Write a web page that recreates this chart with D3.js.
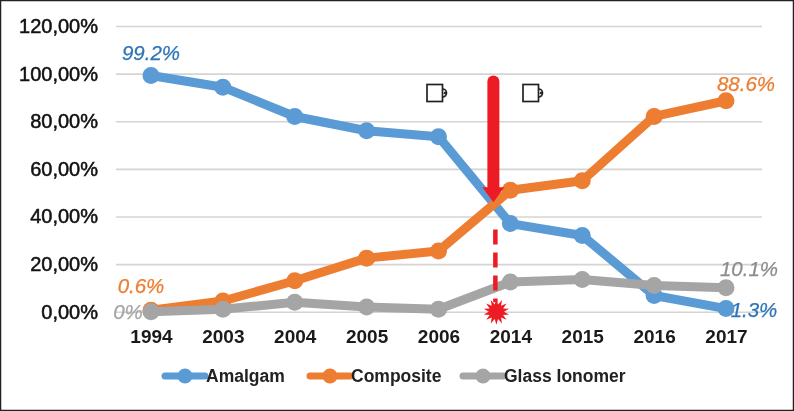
<!DOCTYPE html>
<html><head><meta charset="utf-8">
<script src="https://cdn.jsdelivr.net/npm/d3@7"></script>
<style>html,body{margin:0;padding:0;background:#fff}svg{display:block;filter:blur(0.55px)}text{font-family:"Liberation Sans",Arial,sans-serif}</style>
</head><body><svg id="c" width="794" height="411"></svg>
<script>
const categories=["1994","2003","2004","2005","2006","2014","2015","2016","2017"];
const amalgam=[99.2,94.3,82,76,73.5,37,32,6.8,1.3];
const composite=[0.6,4.5,13,22.5,25.5,51,55,82,88.6];
const glass=[0,1,4,2,1,12.5,13.5,11,10.1];
const yTicks=[0,20,40,60,80,100,120];
const seriesNames=["Amalgam","Composite","Glass Ionomer"];
const colors=["#5b9bd5","#ed7d31","#a5a5a5"];
const markerYear="2014";
const callouts=[
 {t:"99.2%",cat:"1994",v:99.2,dx:0,dy:-16,c:"#2e75b6"},
 {t:"88.6%",cat:"2017",v:88.6,dx:20,dy:-10,c:"#ed7d31"},
 {t:"0.6%",cat:"1994",v:0.6,dx:-10,dy:-17,c:"#ed7d31"},
 {t:"0%",cat:"1994",v:0,dx:-23,dy:7,c:"#a5a5a5"},
 {t:"10.1%",cat:"2017",v:10.1,dx:23,dy:-12,c:"#8c8c8c"},
 {t:"1.3%",cat:"2017",v:1.3,dx:28,dy:8,c:"#2e75b6"}];

const svg=d3.select("#c");
svg.append("rect").attr("x",0.5).attr("y",0.5).attr("width",793).attr("height",410).attr("fill","#fff").attr("stroke","#222").attr("stroke-width",1.5);
const x=d3.scalePoint().domain(categories).range([151,726]);
const y=d3.scaleLinear().domain([0,120]).range([311.7,26]);

const gx=svg.append("g").attr("transform","translate(0,311.7)").call(d3.axisBottom(x).tickSize(0).tickPadding(18));
gx.select(".domain").remove();
gx.selectAll("text").attr("font-size",19).attr("font-weight","bold").attr("fill","#1a1a1a").style("font-family",'"Liberation Sans"');

const gy=svg.append("g").attr("transform","translate(116,0)").call(d3.axisLeft(y).tickValues(yTicks).tickSize(0).tickPadding(18).tickFormat(d=>d3.format(".2f")(d).replace(".",",")+"%"));
gy.select(".domain").remove();
gy.selectAll("text").attr("font-size",20).attr("fill","#111").attr("stroke","#111").attr("stroke-width",0.5).style("font-family",'"Liberation Sans"');
gy.selectAll(".tick").append("line").attr("x1",0).attr("x2",646).attr("stroke","#d4d4d4").attr("stroke-width",1.6);

const line=d3.line().x((d,i)=>x(categories[i])).y(d=>y(d));
[[amalgam,0],[composite,1],[glass,2]].forEach(([vals,k])=>{
 const g=svg.append("g");
 g.append("path").attr("d",line(vals)).attr("fill","none").attr("stroke",colors[k]).attr("stroke-width",9).attr("stroke-linejoin","round");
 g.selectAll("circle").data(vals).join("circle").attr("cx",(d,i)=>x(categories[i])).attr("cy",d=>y(d)).attr("r",8.5).attr("fill",colors[k]);
});

// red marker
const mx=x(markerYear)-17;
const red="#ed1c24";
const m=svg.append("g");
m.append("line").attr("x1",mx).attr("x2",mx).attr("y1",y(98)+3).attr("y2",y(51)).attr("stroke",red).attr("stroke-width",12).attr("stroke-linecap","round");
m.append("path").attr("d",`M${mx-11},${y(51)-3}L${mx+11},${y(51)-3}L${mx},${y(46)}Z`).attr("fill",red);
m.append("line").attr("x1",mx+2).attr("x2",mx+2).attr("y1",y(34.5)).attr("y2",y(4)).attr("stroke",red).attr("stroke-width",4.5).attr("stroke-dasharray","15 8");
const spikes=d3.range(28).map(i=>{const a=i/28*2*Math.PI,r=i%2?13:7.5;return [mx+3+r*Math.cos(a),y(0)+r*Math.sin(a)];});
m.append("path").attr("d",d3.line()(spikes)+"Z").attr("fill",red);

// mug icons
[435,531].forEach(cx=>{
 const ic=svg.append("g").attr("transform",`translate(${cx},93)`).attr("fill","none").attr("stroke","#222").attr("stroke-width",1.7);
 ic.append("rect").attr("x",-8).attr("y",-8.5).attr("width",15.5).attr("height",17);
 ic.append("path").attr("d","M7.5,-4A4,4 0 0 1 7.5,4");
 ic.append("circle").attr("cx",10).attr("cy",0).attr("r",1.2).attr("fill","#222").attr("stroke","none");
});

// data labels
svg.append("g").selectAll("text").data(callouts).join("text")
 .attr("x",d=>x(d.cat)+d.dx).attr("y",d=>y(d.v)+d.dy).attr("text-anchor","middle")
 .attr("font-size",20.5).attr("font-style","italic").attr("fill",d=>d.c).attr("stroke",d=>d.c).attr("stroke-width",0.25).text(d=>d.t);

// legend
const lx=[165,310,463], lw=[40,40,40];
const lg=svg.append("g");
seriesNames.forEach((n,i)=>{
 const ly=376;
 lg.append("line").attr("x1",lx[i]).attr("x2",lx[i]+lw[i]).attr("y1",ly).attr("y2",ly).attr("stroke",colors[i]).attr("stroke-width",7).attr("stroke-linecap","round");
 lg.append("circle").attr("cx",lx[i]+lw[i]/2).attr("cy",ly).attr("r",7.5).attr("fill",colors[i]);
 lg.append("text").attr("x",lx[i]+lw[i]+1).attr("y",ly+6).attr("font-size",17.5).attr("font-weight","bold").attr("fill","#222").text(n);
});
</script></body></html>
